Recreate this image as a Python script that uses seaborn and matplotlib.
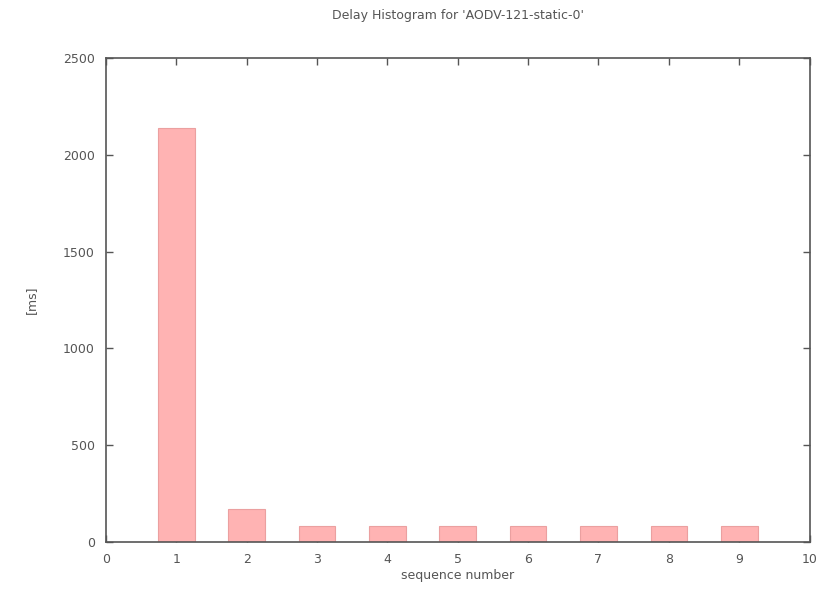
import seaborn as sns
import matplotlib.pyplot as plt
import pandas as pd

# values
seq = [1, 2, 3, 4, 5, 6, 7, 8, 9]
delay_ms = [2140, 170, 80, 80, 80, 80, 80, 80, 80]

df = pd.DataFrame({'seq': seq, 'delay': delay_ms})

sns.set_style('white')
plt.rcParams['font.family'] = ['DejaVu Sans']

fig = plt.figure(figsize=(8.27, 5.89), dpi=100)
ax = fig.add_axes([0.128, 0.080, 0.851, 0.821])

sns.barplot(data=df, x='seq', y='delay', native_scale=True, width=0.52,
            color='#ffb3b3', saturation=1, edgecolor='#eba0a0', linewidth=0.8, ax=ax)

ax.set_xlim(0, 10)
ax.set_ylim(0, 2500)
ax.set_xticks(range(0, 11))
ax.set_yticks(range(0, 2501, 500))
# gnuplot-like: ticks pointing in, mirrored on all four sides
ax.tick_params(direction='in', length=5, width=1, labelsize=9, colors='#555555',
               bottom=True, left=True, top=True, right=True, pad=8)
for s in ax.spines.values():
    s.set_color('#555555')
    s.set_linewidth(1.2)

ax.set_xlabel('sequence number', fontsize=9, color='#555555', labelpad=2)
ax.set_ylabel('[ms]', fontsize=9, color='#555555', labelpad=18)
ax.set_title("Delay Histogram for 'AODV-121-static-0'", fontsize=9, color='#555555', pad=28)

fig.savefig('out.png', dpi=100)
